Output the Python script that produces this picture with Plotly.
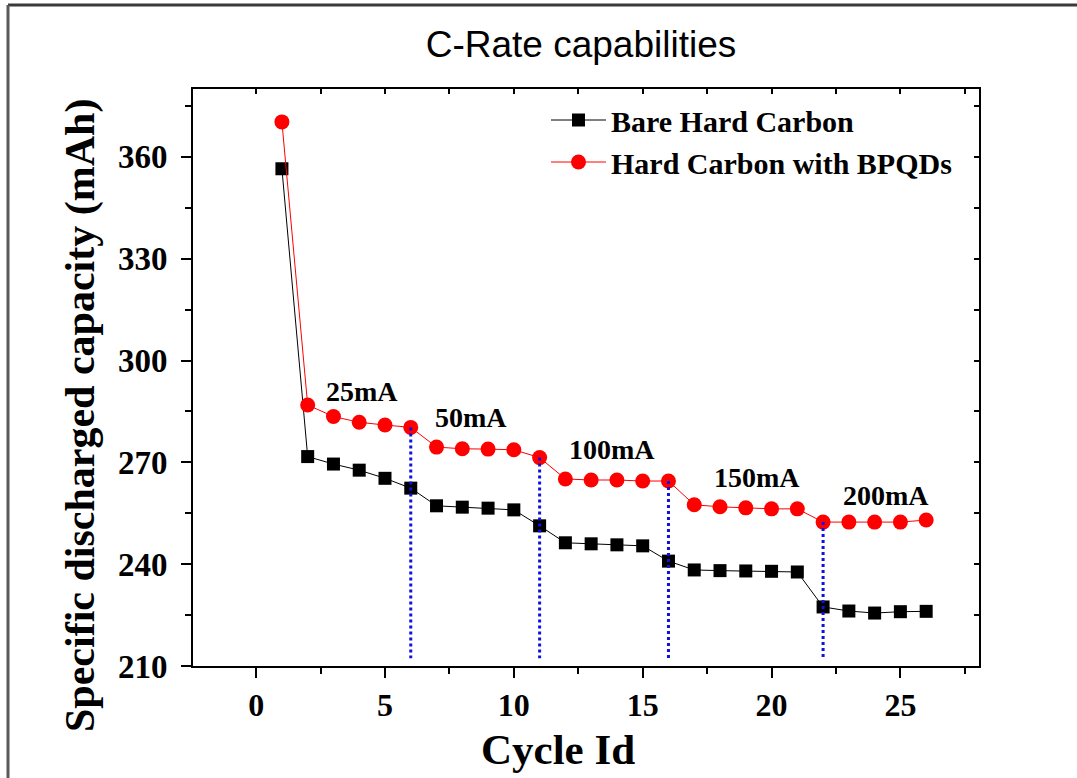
import plotly.graph_objects as go

cycles = list(range(1, 27))
bare_hc = [356.5, 271.7, 269.5, 267.7, 265.3, 262.4, 257.2, 256.8, 256.5, 256.0,
           251.3, 246.3, 246.0, 245.7, 245.4, 240.9, 238.3, 238.1, 238.0, 237.9,
           237.7, 227.4, 226.2, 225.6, 226.0, 226.1]
hc_bpqd = [370.3, 286.9, 283.5, 281.8, 281.0, 280.3, 274.5, 274.0, 273.9, 273.7,
           271.4, 265.1, 264.8, 264.8, 264.5, 264.5, 257.5, 256.9, 256.6, 256.3,
           256.3, 252.4, 252.4, 252.4, 252.4, 253.0]
series_names = ["Bare Hard Carbon", "Hard Carbon with BPQDs"]
boundary_cycles = [6, 11, 16, 22]
rate_labels = ["25mA", "50mA", "100mA", "150mA", "200mA"]
rate_label_x = [4.1, 8.35, 13.8, 19.45, 24.45]
rate_label_y = [290.8, 283.1, 273.7, 265.4, 260.1]
x_title = "Cycle Id"
y_title = "Specific discharged capacity (mAh)"
chart_title = "C-Rate capabilities"

serif = "Liberation Serif, Times New Roman, serif"

fig = go.Figure()
fig.add_trace(go.Scatter(
    x=cycles, y=bare_hc, name=series_names[0], mode="lines+markers",
    line=dict(color="black", width=1),
    marker=dict(symbol="square", size=13, color="black")))
fig.add_trace(go.Scatter(
    x=cycles, y=hc_bpqd, name=series_names[1], mode="lines+markers",
    line=dict(color="red", width=1),
    marker=dict(symbol="circle", size=15, color="red")))
# invisible trace for the top/right inside-tick axes
fig.add_trace(go.Scatter(x=[None], y=[None], xaxis="x2", yaxis="y2",
                         showlegend=False, hoverinfo="skip"))

xr = [-2.45, 28.05]
yr = [210, 380]

shapes = []
for c in boundary_cycles:
    shapes.append(dict(type="line", xref="x", yref="y", x0=c, x1=c,
                       y0=hc_bpqd[c - 1], y1=212.3,
                       line=dict(color="#1010e0", width=3, dash="dot")))
# outer frame lines of the image
W, H = 786.0, 577.0
def px(xp):
    return (xp - 193) / W
def py(yp):
    return (666 - yp) / H
shapes.append(dict(type="line", xref="paper", yref="paper",
                   x0=px(8), x1=px(1090), y0=py(5), y1=py(5),
                   line=dict(color="#3a3a3a", width=3)))
shapes.append(dict(type="line", xref="paper", yref="paper",
                   x0=px(8), x1=px(8), y0=py(5), y1=py(800),
                   line=dict(color="#5a5a5a", width=3)))

annotations = []
for t, ax_, ay_ in zip(rate_labels, rate_label_x, rate_label_y):
    annotations.append(dict(x=ax_, y=ay_, xref="x", yref="y", text=t,
                            showarrow=False,
                            font=dict(family=serif, size=28, color="black",
                                      weight="bold")))
annotations.append(dict(x=px(80), y=py(416), xref="paper", yref="paper",
                        text=y_title, textangle=-90, showarrow=False,
                        xanchor="center", yanchor="middle",
                        font=dict(family=serif, size=42, color="black",
                                  weight="bold")))
annotations.append(dict(x=px(558), y=py(749), xref="paper", yref="paper",
                        text=x_title, showarrow=False,
                        xanchor="center", yanchor="middle",
                        font=dict(family=serif, size=43, color="black",
                                  weight="bold")))

fig.update_layout(
    width=1077, height=778,
    margin=dict(l=193, r=98, t=89, b=112, autoexpand=False),
    paper_bgcolor="white", plot_bgcolor="white",
    title=dict(text=chart_title, x=581 / 1077, xanchor="center",
               y=1 - 44 / 778, yanchor="middle",
               font=dict(family="Liberation Sans, Arial, sans-serif", size=37,
                         color="black")),
    xaxis=dict(range=xr, dtick=5, tick0=0, showgrid=False, zeroline=False,
               showline=True, linecolor="black", linewidth=2, mirror=True,
               ticks="outside", ticklen=10, tickwidth=2, tickcolor="black",
               minor=dict(dtick=2.5, tick0=0, ticks="outside", ticklen=6,
                          tickwidth=2, tickcolor="black"),
               tickfont=dict(family=serif, size=32, color="black", weight="bold"),
               automargin=False),
    yaxis=dict(range=yr, dtick=30, tick0=210, showgrid=False, zeroline=False,
               showline=True, linecolor="black", linewidth=2, mirror=True,
               ticks="outside", ticklen=10, tickwidth=2, tickcolor="black",
               minor=dict(dtick=15, tick0=210, ticks="outside", ticklen=6,
                          tickwidth=2, tickcolor="black"),
               tickfont=dict(family=serif, size=33, color="black", weight="bold"),
               ticklabelstandoff=7,
               automargin=False),
    xaxis2=dict(range=xr, overlaying="x", side="top", dtick=5, tick0=0,
                showgrid=False, zeroline=False, showline=False,
                showticklabels=False, ticks="inside", ticklen=5, tickwidth=2,
                tickcolor="black",
                minor=dict(dtick=2.5, tick0=0, ticks="inside", ticklen=5,
                           tickwidth=2, tickcolor="black")),
    yaxis2=dict(range=yr, overlaying="y", side="right", dtick=30, tick0=210,
                showgrid=False, zeroline=False, showline=False,
                showticklabels=False, ticks="inside", ticklen=5, tickwidth=2,
                tickcolor="black",
                minor=dict(dtick=15, tick0=210, ticks="inside", ticklen=5,
                           tickwidth=2, tickcolor="black")),
    legend=dict(x=px(546), y=py(94), xanchor="left", yanchor="top",
                bgcolor="rgba(0,0,0,0)", borderwidth=0, itemwidth=55,
                tracegroupgap=0,
                font=dict(family=serif, size=30, color="black", weight="bold")),
    shapes=shapes, annotations=annotations, showlegend=True,
)

fig.write_html("out.html")
